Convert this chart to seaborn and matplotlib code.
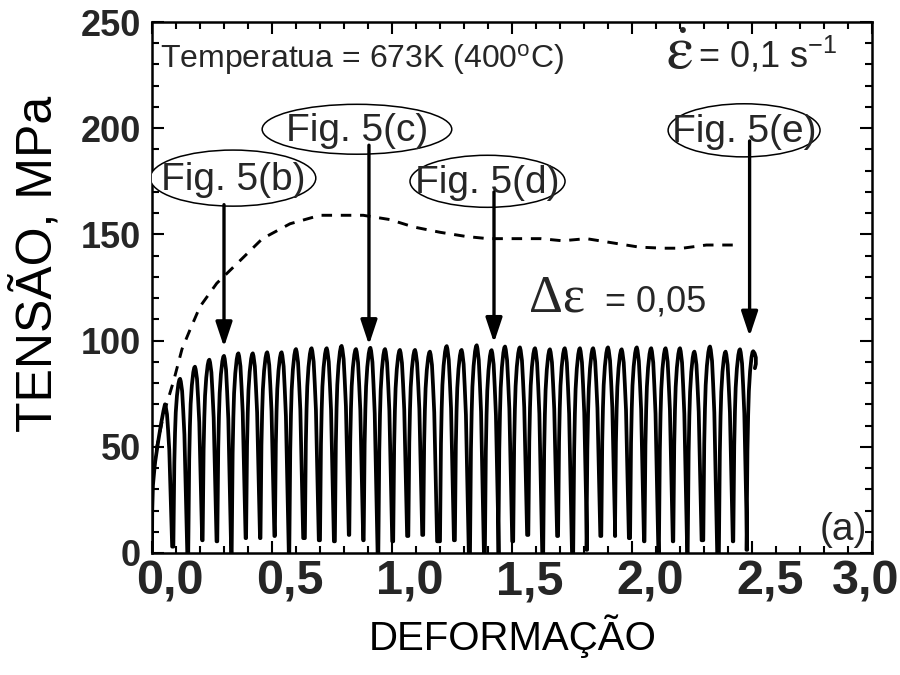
import numpy as np
import pandas as pd
import matplotlib
matplotlib.use("Agg")
import matplotlib.pyplot as plt
import matplotlib.transforms as mtransforms
import seaborn as sns
from matplotlib.patches import Ellipse
from matplotlib.ticker import MultipleLocator, FuncFormatter

# ---------------- data ----------------
# interrupted test (delta eps = 0.05): peaks of each cycle
peak_strain = [0.054, 0.117, 0.179, 0.239, 0.300, 0.360, 0.420, 0.480, 0.540, 0.600,
               0.665, 0.728, 0.790, 0.850, 0.910, 0.971, 1.033, 1.096, 1.158, 1.228,
               1.290, 1.353, 1.415, 1.471, 1.533, 1.596, 1.658, 1.720, 1.783, 1.838,
               1.900, 1.957, 2.020, 2.080, 2.140, 2.200, 2.260, 2.325, 2.390, 2.450]
peak_stress = [70, 82, 87.7, 91, 92.8, 94, 94, 94.5, 94.5, 96,
               96.4, 96.4, 97.5, 96, 96.6, 96, 95.6, 95.6, 94.8, 97.4,
               95.6, 97.8, 95.5, 97.2, 96.8, 96.4, 95.9, 96.4, 96.4, 96.4,
               96.8, 95.9, 96.8, 96.4, 96.4, 96.4, 94.8, 97.2, 94.8, 95.9]
valley_stress = [3, 0, 6, 5.5, 0, 7, 7, 8, 0, 7,
                 6, 5.5, 8.5, 6, 0, 5.5, 8, 8.5, 5.5, 6,
                 0, 0, 0, 5.5, 8.5, 0, 8, 0, 1.5, 8,
                 8, 7, 5.5, 0, 5.5, 0, 6, 0, 5.5, 1.5]
# first loading
initial_strain = [0.0, 0.001, 0.004, 0.012, 0.025, 0.038, 0.048]
initial_stress = [0, 20, 32, 42, 52, 61, 67]
# last, partial cycle
final_peak_strain = 2.505
final_peak_stress = 95
tail_strain = [2.511, 2.516, 2.516, 2.512]
tail_stress = [94, 92, 89, 87]
# loop profile read from one cycle: strain offset from peak / fraction of rise
rise_offset = [-0.028, -0.026, -0.024, -0.021, -0.018, -0.013, -0.007, -0.003, 0.0]
rise_frac = [0.0, 0.25, 0.5, 0.68, 0.8, 0.9, 0.97, 0.995, 1.0]
drop_offset = [0.003, 0.0085, 0.013, 0.018, 0.022, 0.026, 0.029, 0.030]
drop_frac = [0.985, 0.93, 0.82, 0.68, 0.45, 0.2, 0.05, 0.0]

# continuous test (dashed)
cont_strain = [0.0, 0.02, 0.05, 0.09, 0.125, 0.158, 0.20, 0.27, 0.37, 0.46, 0.575, 0.70,
               0.78, 0.88, 0.99, 1.09, 1.20, 1.31, 1.40, 1.50, 1.62, 1.71, 1.81, 1.92,
               2.03, 2.13, 2.21, 2.31, 2.40, 2.45]
cont_stress = [30, 50, 66, 81, 96, 105, 116, 127, 138, 148, 155, 159,
               159, 159, 157, 153.5, 151, 149, 148, 148, 148, 147, 148, 146,
               144, 143.5, 143.5, 145, 145, 145]

# annotations
fig_labels = ["Fig. 5(b)", "Fig. 5(c)", "Fig. 5(d)", "Fig. 5(e)"]
arrow_x = [0.300, 0.904, 1.425, 2.490]
arrow_tip = [97, 98, 99, 102]
arrow_tail = [164, 192, 170, 194]

xticks = [0.0, 0.5, 1.0, 1.5, 2.0, 2.5, 3.0]
yticks = [0, 50, 100, 150, 200, 250]

# ---------------- build interrupted curve ----------------
xs = list(initial_strain)
ys = list(initial_stress)
prev_valley = None
for i, (pe, ps) in enumerate(zip(peak_strain, peak_stress)):
    if i > 0:
        b = prev_valley
        for o, f in zip(rise_offset, rise_frac):
            xs.append(pe + o)
            ys.append(b + f * (ps - b))
    else:
        xs.append(pe)
        ys.append(ps)
    bn = valley_stress[i]
    for o, f in zip(drop_offset, drop_frac):
        xs.append(pe + o)
        ys.append(bn + f * (ps - bn))
    prev_valley = bn
b = prev_valley
for o, f in zip(rise_offset, rise_frac):
    xs.append(final_peak_strain + o)
    ys.append(b + f * (final_peak_stress - b))
xs += tail_strain
ys += tail_stress

df_int = pd.DataFrame({"strain": xs, "stress": ys})
df_cont = pd.DataFrame({"strain": cont_strain, "stress": cont_stress})

# ---------------- style ----------------
sns.set_theme(style="ticks")
SANS = "Liberation Sans"
SERIF = "Liberation Serif"
plt.rcParams["font.family"] = [SANS, "DejaVu Sans"]
plt.rcParams["mathtext.fontset"] = "custom"
plt.rcParams["mathtext.rm"] = SANS
plt.rcParams["mathtext.it"] = SANS + ":italic"
plt.rcParams["mathtext.bf"] = SANS + ":bold"

fig = plt.figure(figsize=(9, 6.75), dpi=100)
ax = fig.add_axes([152 / 900, 122 / 675, 720 / 900, 531 / 675])

sns.lineplot(data=df_int, x="strain", y="stress", sort=False, estimator=None,
             color="black", lw=2.7, ax=ax, zorder=3)
sns.lineplot(data=df_cont, x="strain", y="stress", sort=False, estimator=None,
             color="black", lw=2.1, ax=ax, zorder=3)
ax.lines[-1].set_dashes([3.6, 3.0])

ax.set_xlim(0, 3.0)
ax.set_ylim(0, 250)
ax.set_xticks(xticks)
ax.set_yticks(yticks)
ax.xaxis.set_minor_locator(MultipleLocator(0.1))
ax.yaxis.set_minor_locator(MultipleLocator(10))
ax.xaxis.set_major_formatter(FuncFormatter(lambda v, p: f"{v:.1f}".replace(".", ",")))
ax.yaxis.set_major_formatter(FuncFormatter(lambda v, p: f"{int(round(v))}"))
ax.tick_params(which="both", direction="in", top=True, right=True, width=1.5, color="black")
ax.tick_params(which="major", length=8.5)
ax.tick_params(which="minor", length=5)
ax.tick_params(axis="x", which="major", labelsize=35, pad=5)
ax.tick_params(axis="y", which="major", labelsize=26, pad=8)
for lab in ax.get_xticklabels() + ax.get_yticklabels():
    lab.set_fontweight("bold")
# x tick labels in the reference sit a little to the right of their ticks
shifts_px = [18, 18, 18, 18, 18, 18, -6]
for lab, dx in zip(ax.get_xticklabels(), shifts_px):
    lab.set_transform(lab.get_transform() +
                      mtransforms.ScaledTranslation(dx / 100, 0, fig.dpi_scale_trans))
for s in ax.spines.values():
    s.set_linewidth(1.8)
    s.set_color("black")

ax.set_xlabel("DEFORMAÇÃO", fontsize=29, color="black")
ax.set_ylabel("TENSÃO, MPa", fontsize=36, color="black")
ax.xaxis.set_label_coords(0.501, -0.115)
ax.yaxis.set_label_coords(-0.125, 0.545)

def axfrac(px, py):
    return (px - 152) / 720, (553 - py) / 531

# ellipses with labels (data coords)
ell_cx = [0.3375, 0.854, 1.398, 2.467]
ell_cy = [176.5, 199.5, 175, 199]
ell_w = [0.69, 0.79, 0.646, 0.633]
ell_h = [26.4, 23.5, 24.5, 25]
for lab, cx, cy, w, h in zip(fig_labels, ell_cx, ell_cy, ell_w, ell_h):
    ax.add_patch(Ellipse((cx, cy), w, h, fc="white", ec="black", lw=1.1, zorder=4))
    ax.text(cx, cy - 1.0, lab, ha="center", va="center", fontsize=28, zorder=5)

for x, tip, tail in zip(arrow_x, arrow_tip, arrow_tail):
    ax.annotate("", xy=(x, tip), xytext=(x, tail),
                arrowprops=dict(arrowstyle="-|>,head_length=1.5,head_width=0.5",
                                lw=2.4, color="black", shrinkA=0, shrinkB=0,
                                mutation_scale=10), zorder=5)

# texts
x0, y0 = axfrac(160, 68)
ax.text(x0, y0, r"Temperatua = 673K (400$^{\mathrm{o}}$C)", transform=ax.transAxes,
        fontsize=23, ha="left", va="baseline")
x0, y0 = axfrac(666, 69)
ax.text(x0, y0, r"$\dot{\mathrm{\varepsilon}}$", transform=ax.transAxes, fontsize=44,
        math_fontfamily="stix", ha="left", va="baseline")
x0, y0 = axfrac(698, 68)
ax.text(x0, y0, r"= 0,1 s$^{\mathrm{-1}}$", transform=ax.transAxes,
        fontsize=26, ha="left", va="baseline")
x0, y0 = axfrac(529, 312)
ax.text(x0, y0, "Δε", transform=ax.transAxes, fontsize=38, family=[SERIF, "DejaVu Serif"],
        ha="left", va="baseline")
x0, y0 = axfrac(605, 312)
ax.text(x0, y0, "= 0,05", transform=ax.transAxes, fontsize=26, ha="left", va="baseline")
x0, y0 = axfrac(867, 540)
ax.text(x0, y0, "(a)", transform=ax.transAxes, fontsize=28, ha="right", va="baseline")

fig.savefig("out.png", dpi=100, facecolor="white")
